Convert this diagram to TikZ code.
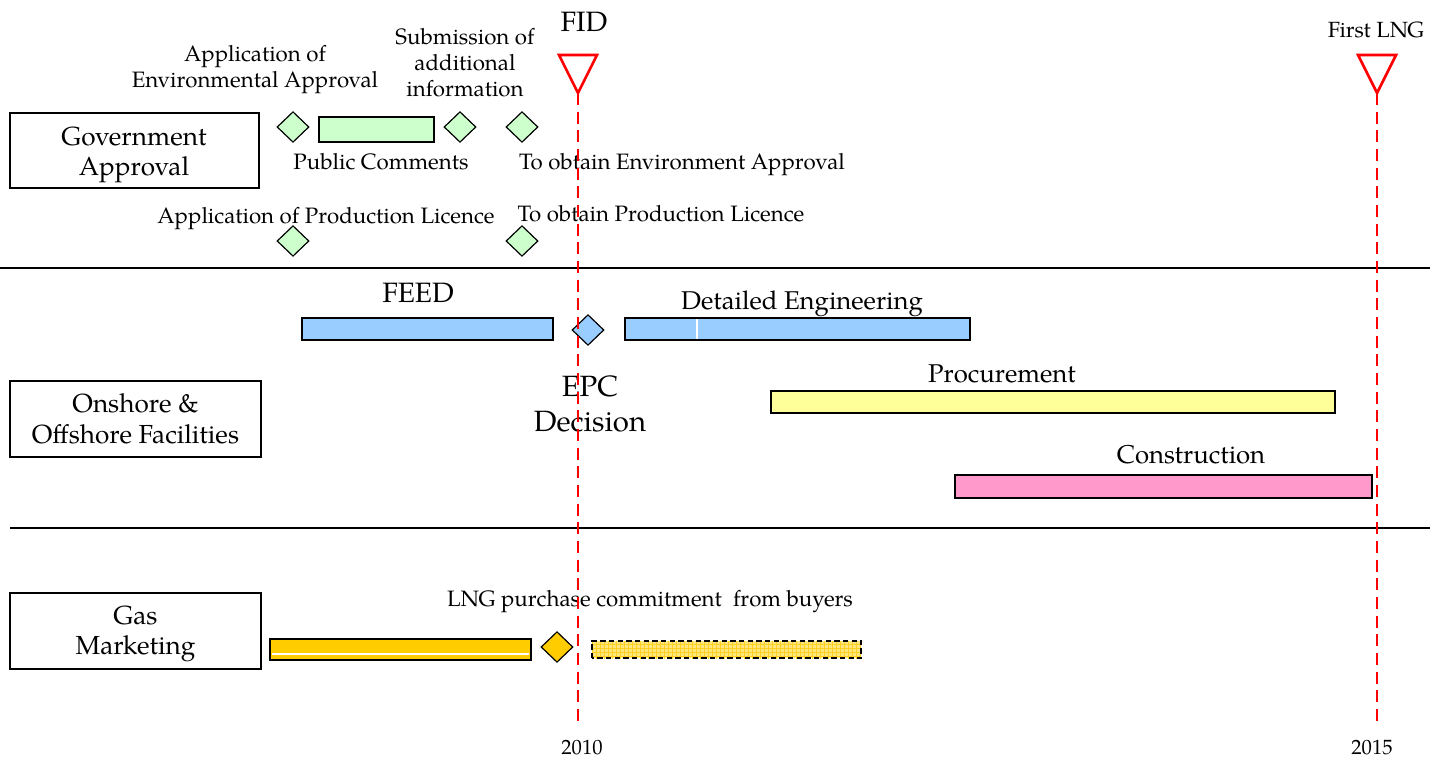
\documentclass[tikz,border=0pt]{standalone}
\usepackage{fontspec}
\setmainfont{TeX Gyre Pagella}
\usetikzlibrary{shapes.geometric,fit,patterns}
\definecolor{gfill}{HTML}{CCFFCC}
\definecolor{bfill}{HTML}{99CCFF}
\definecolor{yfill}{HTML}{FFFF99}
\definecolor{pfill}{HTML}{FF99CC}
\definecolor{ofill}{HTML}{FFCC00}
\definecolor{lfill}{HTML}{FFE680}
\definecolor{gridc}{HTML}{FFD21F}
\definecolor{fidred}{HTML}{FF0000}
\tikzset{
  lab/.style={inner sep=0pt, font=\fontsize{16.7}{19.5}\selectfont, align=center},
  mid/.style={inner sep=0pt, font=\fontsize{19.3}{22}\selectfont, align=center},
  big/.style={inner sep=0pt, font=\fontsize{21}{23}\selectfont, align=center},
  cat/.style={draw, line width=0.8pt, inner sep=0pt},
  cattext/.style={inner sep=0pt, font=\fontsize{19.6}{23}\selectfont, align=center},
  bar/.style={draw, line width=1pt, inner sep=0pt},
  dia/.style={diamond, draw, line width=0.9pt, inner sep=0pt, minimum width=24pt, minimum height=23pt},
  tri/.style={draw=fidred, line width=2pt, line join=miter},
  fidline/.style={draw=fidred, line width=2pt, dash pattern=on 9pt off 5pt},
  sep/.style={draw, line width=0.8pt},
}
\begin{document}
\begin{tikzpicture}[x=0.75pt,y=-0.75pt]
\useasboundingbox (0,0) rectangle (1443,760);
% separators
\coordinate (s1a) at (0,268); \coordinate (s1b) at (1430,268);
\coordinate (s2a) at (10,528); \coordinate (s2b) at (1430,528);
\draw[sep] (s1a) -- (s1b);
\draw[sep] (s2a) -- (s2b);
% category boxes
\node[cat, fit={(10,113)(259,188)}] (ga) {};
\node[cattext] (gat) at (134,155) {Government\\Approval};
\node[cat, fit={(10,381)(261,457)}] (of) {};
\node[cattext] (oft) at (135.5,419) {Onshore \&\\Offshore Facilities};
\node[cat, fit={(10,593)(261,669)}] (gm) {};
\node[cattext] (gmt) at (135.5,634) {Gas\\Marketing};
% Government approval row
\node[dia, fill=gfill] (d1) at (293,127) {};
\node[bar, fill=gfill, fit={(319,117)(434,142)}] (pc) {};
\node[dia, fill=gfill] (d2) at (460,127) {};
\node[dia, fill=gfill] (d3) at (522,127) {};
\node[lab] (l1) at (255,70) {Application of\\Environmental Approval};
\node[lab] (l2) at (465,63) {Submission of\\additional\\information};
\node[lab] (l3) at (381,162) {Public Comments};
\node[lab] (l4) at (682,165) {To obtain Environment Approval};
\node[lab] (l5) at (326,219) {Application of Production Licence};
\node[lab] (l6) at (661,214) {To obtain Production Licence};
\node[dia, fill=gfill] (d4) at (293,241) {};
\node[dia, fill=gfill] (d5) at (522,241) {};
% Onshore & Offshore row
\node[big] (feed) at (418,293) {FEED};
\node[bar, fill=bfill, fit={(302,318)(553,340)}] (feedbar) {};
\node[dia, fill=bfill] (epc) at (588,330) {};
\node[bar, fill=bfill, fit={(625,318)(970,340)}] (debar) {};
\draw[white, line width=0.8pt] (697,319) -- (697,339);
\node[mid] (de) at (802,304) {Detailed Engineering};
\node[big, font=\fontsize{22}{26}\selectfont] (epcl) at (590,404) {EPC\\Decision};
\node[bar, fill=yfill, fit={(771,391)(1335,413)}] (prbar) {};
\node[mid] (pr) at (1002,374) {Procurement};
\node[bar, fill=pfill, fit={(955,475)(1372,498)}] (cobar) {};
\node[mid] (co) at (1191,455) {Construction};
% Gas marketing row
\node[lab] (lng) at (650,602) {LNG purchase commitment\ \ from buyers};
\node[bar, fill=ofill, fit={(270,639)(531,660)}] (gmbar) {};
\draw[white, line width=0.8pt] (272,654) -- (529,654);
\node[dia, fill=ofill] (gmd) at (557,647) {};
\node[inner sep=0pt, fill=lfill, fit={(592,641)(861,658)}] (hbar) {};
\fill[pattern=grid, pattern color=gridc] (592,641) rectangle (861,658);
\draw[line width=1.4pt, dash pattern=on 4pt off 2.5pt] (hbar.south west) rectangle (hbar.north east);
% milestones
\node[big] (fid) at (584,22) {FID};
\node[lab, font=\fontsize{16.5}{19}\selectfont] (flng) at (1376,30) {First LNG};
\coordinate (t1) at (578,93); \coordinate (t1b) at (578,722);
\coordinate (t2) at (1377,93); \coordinate (t2b) at (1377,722);
\draw[tri] (559,55) -- (597,55) -- (t1) -- cycle;
\draw[tri] (1358,55) -- (1396,55) -- (t2) -- cycle;
\draw[fidline] (t1) -- (t1b);
\draw[fidline] (t2) -- (t2b);
\node[lab, font=\fontsize{15.5}{17}\selectfont] (y1) at (582,748) {2010};
\node[lab, font=\fontsize{15.5}{17}\selectfont] (y2) at (1372,748) {2015};
\end{tikzpicture}
\end{document}
